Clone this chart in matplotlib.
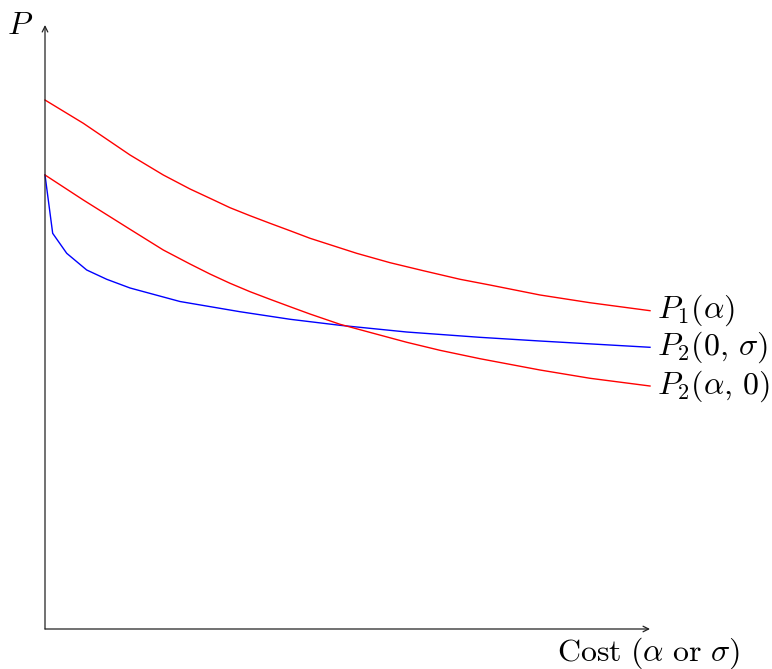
import matplotlib
matplotlib.use("Agg")
import matplotlib.pyplot as plt

plt.rcParams["mathtext.fontset"] = "cm"

# curve samples (cost on x, P on y)
x_p1 = [0, 0.633, 1.405, 1.955, 2.397, 2.727, 3.058, 3.388, 3.719, 4.050,
        4.380, 5.152, 5.702, 6.253, 6.860, 7.355, 8.182, 9.008, 10.0]
p1_alpha = [8.758, 8.373, 7.848, 7.517, 7.285, 7.131, 6.975, 6.843, 6.717, 6.594,
            6.469, 6.220, 6.065, 5.932, 5.790, 5.695, 5.530, 5.402, 5.270]

x_p2a = [0, 0.633, 1.405, 1.955, 2.397, 2.727, 3.058, 3.388, 3.719, 4.050,
         4.380, 4.876, 5.426, 5.979, 6.529, 7.190, 8.182, 9.008, 10.0]
p2_alpha0 = [7.517, 7.103, 6.618, 6.275, 6.043, 5.877, 5.724, 5.585, 5.459, 5.336,
             5.215, 5.045, 4.896, 4.747, 4.614, 4.475, 4.288, 4.151, 4.023]

x_p2s = [0, 0.127, 0.359, 0.689, 1.020, 1.405, 2.231, 3.223, 4.050, 4.876,
         5.979, 7.190, 8.182, 10.0]
p2_0sigma = [7.517, 6.551, 6.220, 5.944, 5.790, 5.646, 5.422, 5.253, 5.128, 5.028,
             4.917, 4.829, 4.768, 4.664]

labels = [r"$P_1(\alpha)$", r"$P_2(0,\,\sigma)$", r"$P_2(\alpha,\,0)$"]

fig = plt.figure(figsize=(7.72, 6.69), dpi=100)
ax = fig.add_axes([45 / 772, 40 / 669, 605 / 772, 604 / 669])
ax.set_xlim(0, 10)
ax.set_ylim(0, 10)
ax.axis("off")

# axes with arrows
arrow = dict(arrowstyle="->", color="#222222", lw=0.9, shrinkA=0, shrinkB=0)
ax.annotate("", xy=(1, 0), xytext=(0, 0), xycoords="axes fraction",
            arrowprops=arrow, annotation_clip=False)
ax.annotate("", xy=(0, 1), xytext=(0, 0), xycoords="axes fraction",
            arrowprops=arrow, annotation_clip=False)

ax.plot(x_p1, p1_alpha, color="red", lw=1.0, clip_on=False)
ax.plot(x_p2s, p2_0sigma, color="blue", lw=1.0, clip_on=False)
ax.plot(x_p2a, p2_alpha0, color="red", lw=1.0, clip_on=False)

for ys, lab in zip([p1_alpha[-1], p2_0sigma[-1], p2_alpha0[-1]], labels):
    ax.annotate(lab, xy=(10, ys), xytext=(5, 0), textcoords="offset points",
                ha="left", va="center", fontsize=23, annotation_clip=False)

ax.text(-0.02, 1.0, r"$P$", transform=ax.transAxes, ha="right", va="center",
        fontsize=23)
ax.text(0.998, -0.040, r"$\mathrm{Cost}\ (\alpha\ \mathrm{or}\ \sigma)$",
        transform=ax.transAxes, ha="center", va="center", fontsize=23)

fig.savefig("out.png", dpi=100)
